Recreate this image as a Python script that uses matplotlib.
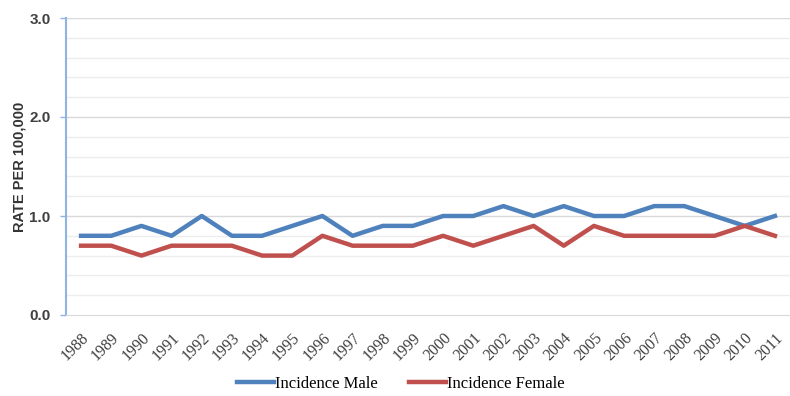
import numpy as np
import matplotlib.pyplot as plt

years = ['1988', '1989', '1990', '1991', '1992', '1993', '1994', '1995', '1996', '1997', '1998', '1999',
         '2000', '2001', '2002', '2003', '2004', '2005', '2006', '2007', '2008', '2009', '2010', '2011']
male = [0.8, 0.8, 0.9, 0.8, 1.0, 0.8, 0.8, 0.9, 1.0, 0.8, 0.9, 0.9,
        1.0, 1.0, 1.1, 1.0, 1.1, 1.0, 1.0, 1.1, 1.1, 1.0, 0.9, 1.0]
female = [0.7, 0.7, 0.6, 0.7, 0.7, 0.7, 0.6, 0.6, 0.8, 0.7, 0.7, 0.7,
          0.8, 0.7, 0.8, 0.9, 0.7, 0.9, 0.8, 0.8, 0.8, 0.8, 0.9, 0.8]

fig = plt.figure(figsize=(7.9, 3.96), dpi=100)
ax = fig.add_axes([66 / 790, 1 - 315 / 396, 724 / 790, 297 / 396])

x = np.arange(len(years))
ax.plot(x, male, color='#4F81BD', lw=3.2, label='Incidence Male')
ax.plot(x, female, color='#C0504D', lw=3.2, label='Incidence Female')

ax.set_xlim(-0.5, len(years) - 0.5)
ax.set_ylim(0, 3.0)

# light minor grid every 0.2, darker at the whole numbers
for v in np.arange(0.2, 3.0, 0.2):
    if abs(v - round(v)) > 1e-6:
        ax.axhline(v, color='#EDEDED', lw=1, zorder=0)
for v in [1.0, 2.0, 3.0]:
    ax.axhline(v, color='#D9D9D9', lw=1, zorder=0)

ax.set_yticks([0, 1, 2, 3])
ax.set_yticklabels(['0.0', '1.0', '2.0', '3.0'], fontsize=11, color='#404040',
                   family='Liberation Sans', fontweight='bold')
ax.tick_params(axis='y', length=4, width=1, color='#8EB4E3', pad=7)
ax.set_xticks(x)
ax.set_xticklabels(years, rotation=45, ha='right', rotation_mode='anchor',
                   fontsize=11.5, family='Liberation Serif', color='#404040')
ax.tick_params(axis='x', length=0, pad=11)

for s in ['top', 'right']:
    ax.spines[s].set_visible(False)
ax.spines['left'].set_color('#8EB4E3')
ax.spines['left'].set_linewidth(1.5)
ax.spines['bottom'].set_color('#D9D9D9')

ax.set_ylabel('RATE PER 100,000', fontsize=10.5, family='Liberation Sans', color='#333333',
              fontweight='semibold', labelpad=2)

fig.legend(loc='center', bbox_to_anchor=(401 / 790, 1 - 384 / 396), ncol=2, frameon=False,
           prop={'family': 'Liberation Serif', 'size': 12}, handlelength=2.2,
           handletextpad=0.05, columnspacing=1.9)

fig.savefig('out.png', dpi=100)
